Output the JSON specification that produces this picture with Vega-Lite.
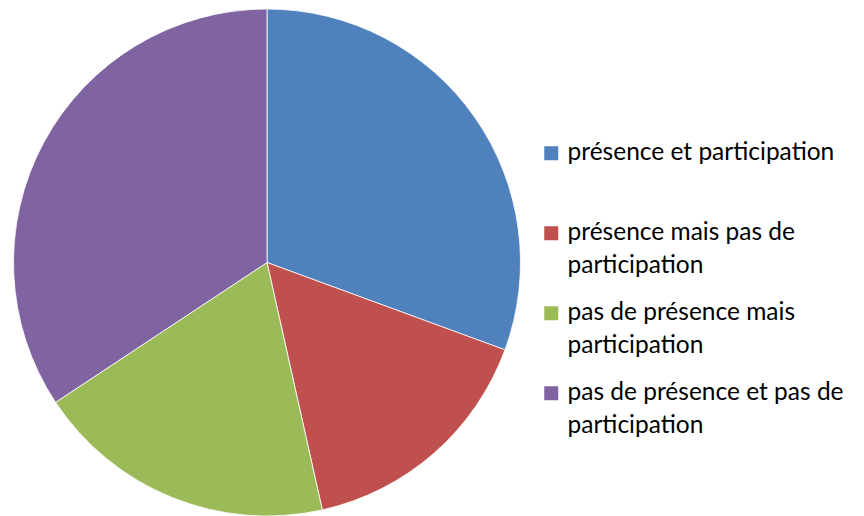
{
  "$schema": "https://vega.github.io/schema/vega-lite/v6.json",
  "width": 508,
  "height": 507,
  "padding": {"left": 13, "top": 9, "right": 343, "bottom": 0},
  "autosize": {"type": "none"},
  "background": "white",
  "data": {"values": [
    {"cat": "présence et participation|", "order": 1, "value": 30.6},
    {"cat": "présence mais pas de|participation", "order": 2, "value": 15.9},
    {"cat": "pas de présence mais|participation", "order": 3, "value": 19.2},
    {"cat": "pas de présence et pas de|participation", "order": 4, "value": 34.3}
  ]},
  "mark": {"type": "arc", "stroke": "#ffffff", "strokeWidth": 0.8},
  "encoding": {
    "theta": {"field": "value", "type": "quantitative", "stack": true},
    "order": {"field": "order", "type": "quantitative"},
    "color": {
      "field": "cat",
      "type": "nominal",
      "sort": null,
      "scale": {
        "domain": ["présence et participation|", "présence mais pas de|participation", "pas de présence mais|participation", "pas de présence et pas de|participation"],
        "range": ["#4F81BD", "#C0504D", "#9BBB59", "#8064A2"]
      },
      "legend": {
        "title": null,
        "orient": "none",
        "legendX": 526,
        "legendY": 132,
        "symbolType": "square",
        "symbolSize": 196,
        "symbolStrokeWidth": 0,
        "labelExpr": "split(datum.label, '|')",
        "labelFont": "Lato",
        "labelFontSize": 24.5,
        "labelColor": "#000000",
        "labelLimit": 400,
        "labelBaseline": "middle",
        "labelOffset": 4,
        "rowPadding": 22
      }
    }
  },
  "config": {"view": {"stroke": null}, "style": {"guide-label": {"lineHeight": 33}}}
}
